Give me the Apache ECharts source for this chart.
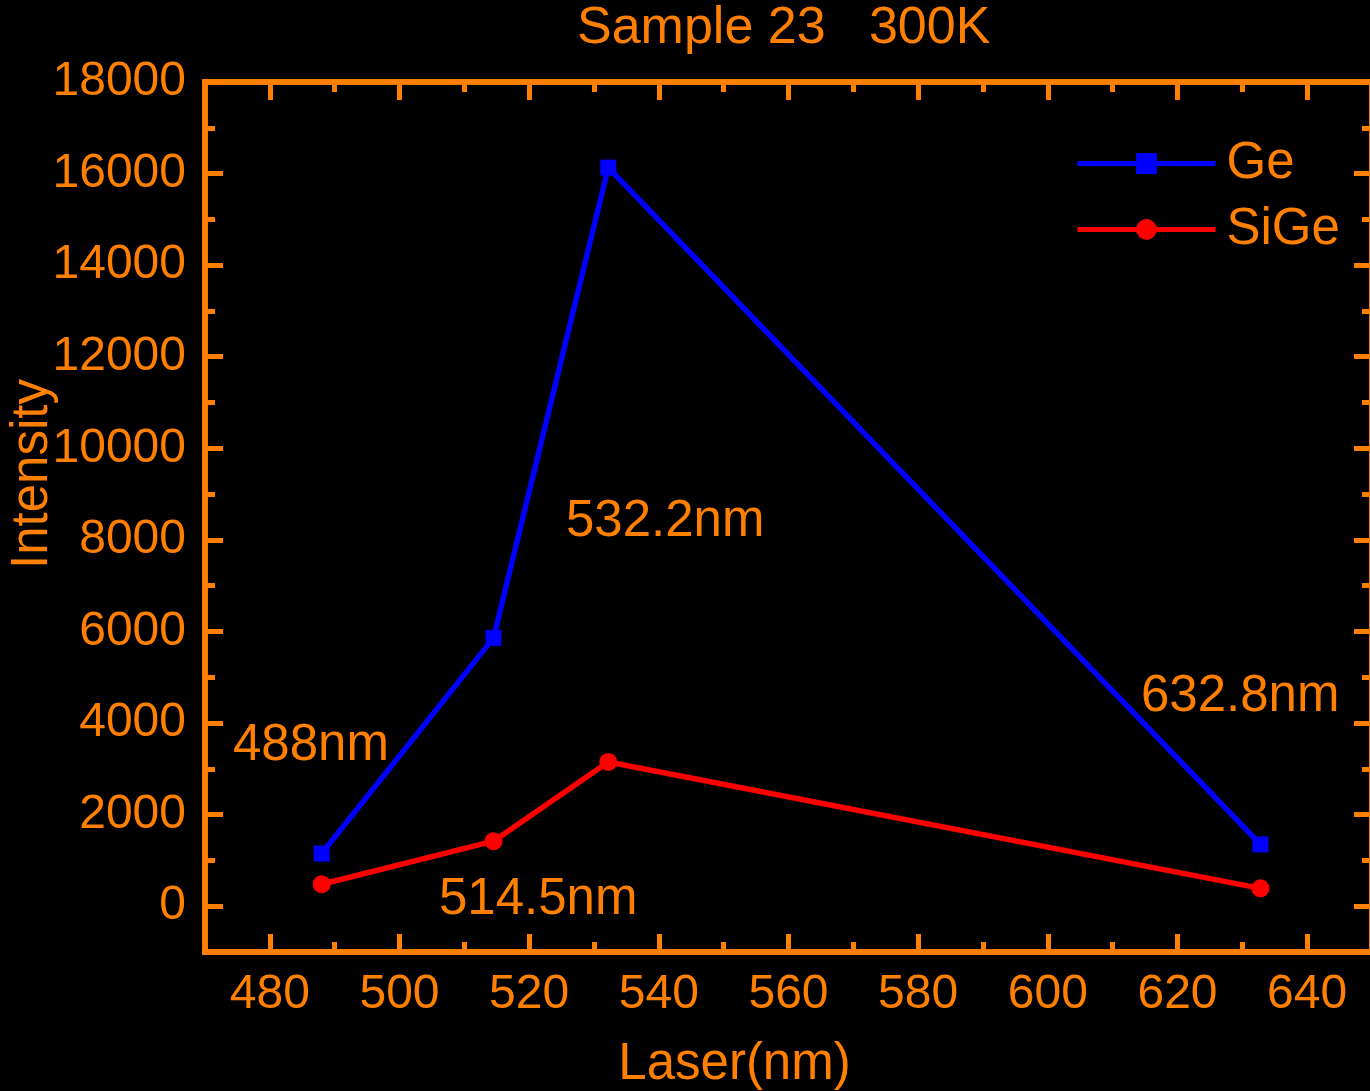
<!DOCTYPE html>
<html>
<head>
<meta charset="utf-8">
<script src="https://cdn.jsdelivr.net/npm/echarts@6/dist/echarts.min.js"></script>
<style>
    html, body { margin: 0; padding: 0; background: #000; }
    #container { width: 1370px; height: 1091px; }
</style>
</head>
<body>
<div id="container"></div>
<script type="text/javascript">
    // laser wavelength (nm) vs PL intensity
    var laser = [488, 514.5, 532.2, 632.8];
    var geIntensity = [1150, 5860, 16130, 1350];
    var sigeIntensity = [480, 1420, 3150, 390];

    var xMajorTicks = [480, 500, 520, 540, 560, 580, 600, 620, 640];
    var xMinorTicks = [490, 510, 530, 550, 570, 590, 610, 630];
    var yMajorTicks = [0, 2000, 4000, 6000, 8000, 10000, 12000, 14000, 16000, 18000];
    var yMinorTicks = [1000, 3000, 5000, 7000, 9000, 11000, 13000, 15000, 17000];

    var pointNotes = ['488nm', '514.5nm', '532.2nm', '632.8nm'];

    var orange = '#FF8000';
    var font = '"Liberation Sans", Arial, sans-serif';

    function pairs(xs, ys) {
        var out = [];
        for (var i = 0; i < xs.length; i++) {
            out.push([xs[i], ys[i]]);
        }
        return out;
    }

    function plain(v) {
        return String(v);
    }

    // one axis = one set of inward ticks (major or minor) on one side of the box
    function xAx(pos, ticks, len, withLabel) {
        return {
            type: 'value',
            position: pos,
            min: 470,
            max: 650,
            nameMoveOverlap: false,
            axisLine: { show: true, onZero: false, lineStyle: { color: orange, width: 5.5, cap: 'square' } },
            axisTick: { show: true, inside: true, length: len, customValues: ticks,
                        lineStyle: { color: orange, width: 5 } },
            axisLabel: { show: withLabel, customValues: ticks, color: orange, fontSize: 48,
                         fontFamily: font, margin: 19, formatter: plain },
            splitLine: { show: false }
        };
    }

    function yAx(pos, ticks, len, withLabel) {
        return {
            type: 'value',
            position: pos,
            min: -1000,
            max: 18000,
            nameMoveOverlap: false,
            axisLine: { show: true, onZero: false, lineStyle: { color: orange, width: 5.5, cap: 'square' } },
            axisTick: { show: true, inside: true, length: len, customValues: ticks,
                        lineStyle: { color: orange, width: 5 } },
            axisLabel: { show: withLabel, customValues: ticks, color: orange, fontSize: 48,
                         fontFamily: font, margin: 19, formatter: plain },
            splitLine: { show: false }
        };
    }

    var xAxes = [
        xAx('bottom', xMajorTicks, 18, true),
        xAx('bottom', xMinorTicks, 10, false),
        xAx('top', xMajorTicks, 18, false),
        xAx('top', xMinorTicks, 10, false)
    ];
    xAxes[0].name = 'Laser(nm)';
    xAxes[0].nameLocation = 'middle';
    xAxes[0].nameGap = 87;
    xAxes[0].nameTextStyle = { color: orange, fontSize: 51, fontFamily: font, padding: [0, 108, 0, 0] };

    var yAxes = [
        yAx('left', yMajorTicks, 18, true),
        yAx('left', yMinorTicks, 10, false),
        yAx('right', yMajorTicks, 18, false),
        yAx('right', yMinorTicks, 10, false)
    ];
    yAxes[0].name = 'Intensity';
    yAxes[0].nameLocation = 'middle';
    yAxes[0].nameGap = 147;
    yAxes[0].nameTextStyle = { color: orange, fontSize: 51, fontFamily: font, padding: [0, 0, 0, 86] };

    var noteStyle = { fill: orange, fontSize: 51, fontFamily: font, verticalAlign: 'middle' };
    var notePos = [[233, 746], [439, 900], [566, 522], [1141, 697]];
    var notes = [];
    for (var i = 0; i < pointNotes.length; i++) {
        notes.push({
            type: 'text',
            x: notePos[i][0],
            y: notePos[i][1],
            style: Object.assign({ text: pointNotes[i] }, noteStyle)
        });
    }

    var dom = document.getElementById('container');
    var myChart = echarts.init(dom);
    var option = {
        backgroundColor: '#000',
        animation: false,
        title: {
            text: 'Sample 23   300K',
            left: 577,
            top: 3,
            padding: 0,
            textStyle: { color: orange, fontSize: 52, fontWeight: 'normal', fontFamily: font }
        },
        legend: {
            orient: 'vertical',
            left: 1075,
            top: 138,
            padding: 0,
            itemGap: 15,
            itemWidth: 138,
            itemHeight: 26,
            lineStyle: { width: 5 },
            textStyle: { color: orange, fontSize: 51, fontFamily: font, padding: [0, 0, 0, 6] },
            data: ['Ge', 'SiGe']
        },
        grid: {
            left: 205,
            right: -2,
            top: 82,
            bottom: 139,
            containLabel: false,
            outerBoundsMode: 'none'
        },
        xAxis: xAxes,
        yAxis: yAxes,
        graphic: notes,
        series: [
            {
                name: 'Ge',
                type: 'line',
                data: pairs(laser, geIntensity),
                symbol: 'rect',
                symbolSize: 16,
                color: '#0000FF',
                lineStyle: { color: '#0000FF', width: 5.5 }
            },
            {
                name: 'SiGe',
                type: 'line',
                data: pairs(laser, sigeIntensity),
                symbol: 'circle',
                symbolSize: 18,
                color: '#FF0000',
                lineStyle: { color: '#FF0000', width: 5.5 }
            }
        ]
    };
    myChart.setOption(option, true);
</script>
</body>
</html>
